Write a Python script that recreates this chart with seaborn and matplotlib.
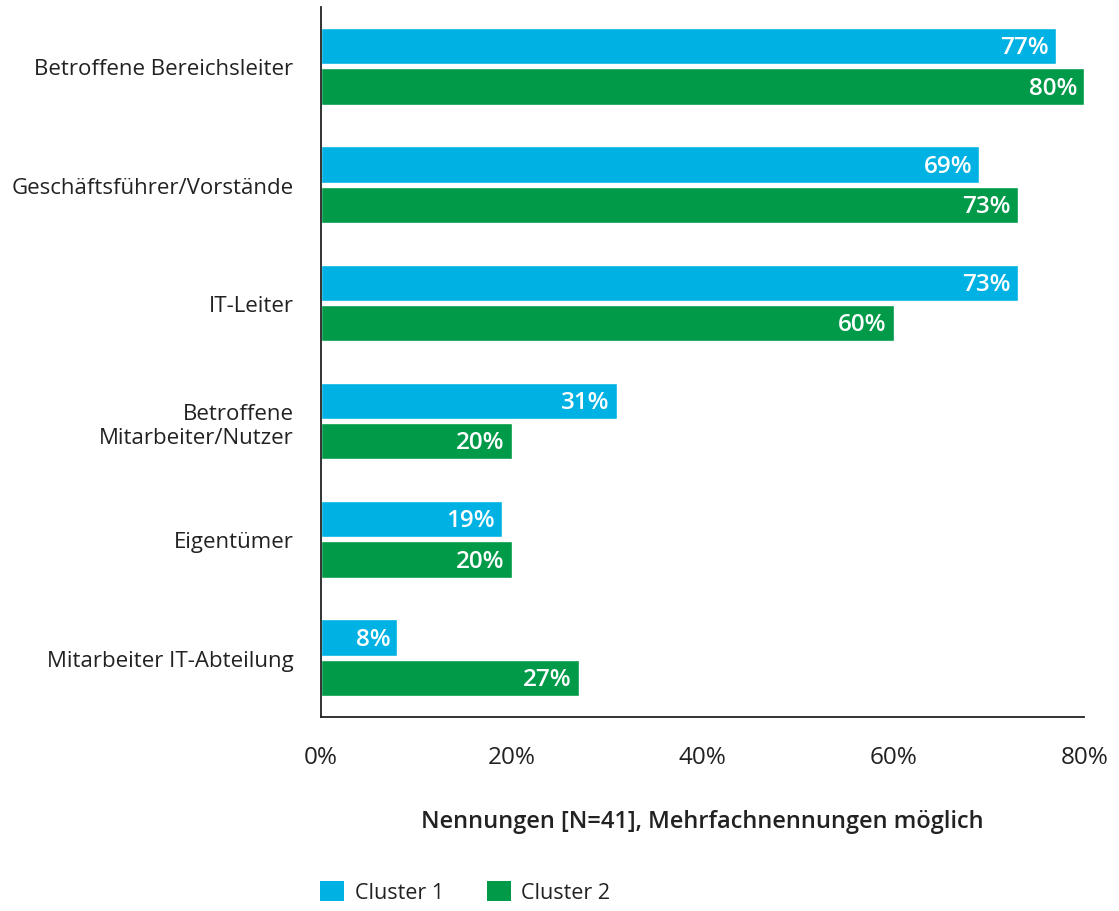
import matplotlib
matplotlib.use("Agg")
import matplotlib.pyplot as plt
import seaborn as sns
import pandas as pd
from matplotlib.patches import Patch

categories = ["Betroffene Bereichsleiter", "Geschäftsführer/Vorstände", "IT-Leiter",
              "Betroffene\nMitarbeiter/Nutzer", "Eigentümer", "Mitarbeiter IT-Abteilung"]
cluster1 = [77, 69, 73, 31, 19, 8]
cluster2 = [80, 73, 60, 20, 20, 27]
series = ["Cluster 1", "Cluster 2"]
colors = ["#00B2E3", "#009A48"]
xticks = [0, 20, 40, 60, 80]

df = pd.DataFrame({
    "cat": categories * 2,
    "val": cluster1 + cluster2,
    "series": [series[0]] * len(categories) + [series[1]] * len(categories),
})

sns.set_theme(style="white")
plt.rcParams["font.family"] = ["Open Sans", "DejaVu Sans"]
txt = "#222222"

fig = plt.figure(figsize=(11.19, 9.12), dpi=100)
ax = fig.add_axes([0.287, 0.213, 0.682, 0.778])
sns.barplot(data=df, y="cat", x="val", hue="series", order=categories,
            hue_order=series, palette=colors, orient="h", width=0.68, gap=0.1,
            legend=False, ax=ax, saturation=1)

for cont in ax.containers:
    for bar in cont:
        w = bar.get_width()
        ax.text(w - 0.75, bar.get_y() + bar.get_height() / 2 + 0.01, f"{w:.0f}%",
                ha="right", va="center", color="white", fontsize=17.5,
                fontweight="semibold")

ax.set_xlim(0, 80)
ax.set_ylim(5.5, -0.5)
ax.set_xticks(xticks)
ax.set_xticklabels([f"{t}%" for t in xticks], fontsize=17.5, color=txt)
ax.tick_params(axis="x", length=0, pad=20)
ax.tick_params(axis="y", length=0, pad=20, labelsize=16, labelcolor=txt)
for lab in ax.get_yticklabels():
    lab.set_horizontalalignment("right")
    lab.set_multialignment("right")
ax.set_ylabel("")
ax.set_xlabel("Nennungen [N=41], Mehrfachnennungen möglich", fontsize=17,
              color=txt, fontweight="semibold", labelpad=29)
for s in ["top", "right"]:
    ax.spines[s].set_visible(False)
for s in ["left", "bottom"]:
    ax.spines[s].set_color("#222222")
    ax.spines[s].set_linewidth(1.3)

handles = [Patch(facecolor=c, edgecolor="none", label=l) for c, l in zip(colors, series)]
fig.legend(handles=handles, loc="lower left", bbox_to_anchor=(0.269, -0.013),
           ncol=2, frameon=False, fontsize=15.5, handlelength=1.1, handleheight=1.1,
           handletextpad=0.5, columnspacing=2.0, labelcolor=txt)

fig.savefig("out.png", dpi=100)
